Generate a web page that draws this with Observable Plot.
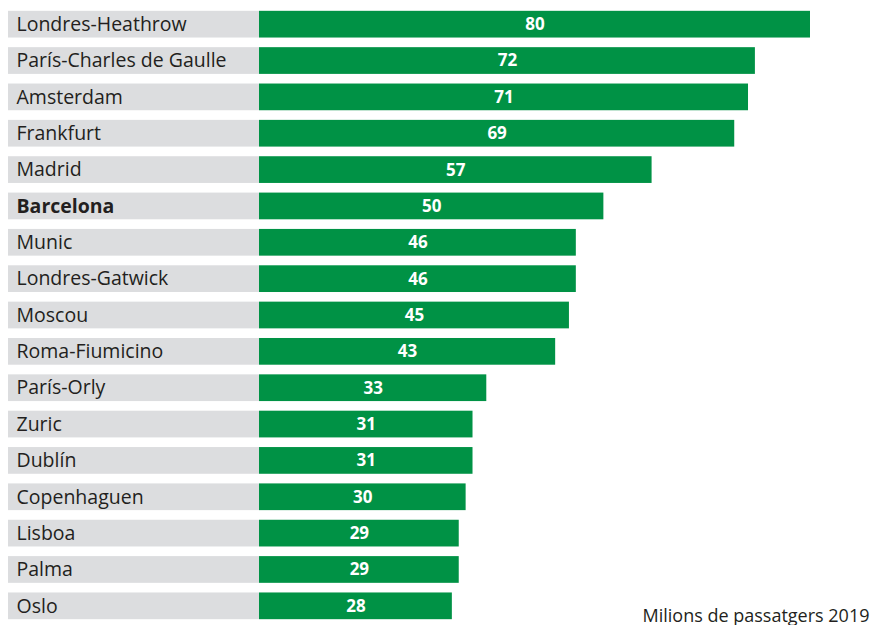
<!DOCTYPE html>
<html><head><meta charset="utf-8">
<script src="https://cdn.jsdelivr.net/npm/d3@7"></script>
<script src="https://cdn.jsdelivr.net/npm/@observablehq/plot@0.6"></script>
<style>body{margin:0;background:#fff}</style>
</head><body><div id="chart"></div>
<script>
const airports = ["Londres-Heathrow","París-Charles de Gaulle","Amsterdam","Frankfurt","Madrid","Barcelona","Munic","Londres-Gatwick","Moscou","Roma-Fiumicino","París-Orly","Zuric","Dublín","Copenhaguen","Lisboa","Palma","Oslo"];
const passengers = [80,72,71,69,57,50,46,46,45,43,33,31,31,30,29,29,28];
const highlight = "Barcelona";
const caption = "Milions de passatgers 2019";

const data = airports.map((name, i) => ({name, value: passengers[i]}));
const font = "'Open Sans', sans-serif";
const green = "#009245", gray = "#dcdddf", ink = "#231f20";

const chart = Plot.plot({
  width: 873, height: 625,
  marginTop: 6, marginBottom: 1, marginLeft: 8, marginRight: 0,
  style: {fontFamily: font, background: "#fff"},
  x: {domain: [0, 80], range: [259, 810], axis: null},
  y: {domain: airports, paddingInner: 0.265, paddingOuter: 0.1325, round: false, axis: null},
  marks: [
    Plot.barX(data, {y: "name", x1: 0, x2: 0, insetLeft: -251, fill: gray}),
    Plot.barX(data, {y: "name", x: "value", fill: green}),
    Plot.text(data.filter(d => d.name !== highlight), {y: "name", x: 0, dx: -243, text: "name", textAnchor: "start", fontSize: 19.5, fill: ink}),
    Plot.text(data.filter(d => d.name === highlight), {y: "name", x: 0, dx: -243, text: "name", textAnchor: "start", fontSize: 19.5, fontWeight: "bold", fill: ink}),
    Plot.text(data, {y: "name", x: d => d.value / 2, text: d => String(d.value), fontSize: 17, fontWeight: "bold", fill: "#fff"}),
    Plot.text([caption], {frameAnchor: "bottom-right", text: d => d, textAnchor: "end", lineAnchor: "bottom", dx: -4, dy: -3, fontSize: 18, fill: ink})
  ]
});
document.getElementById("chart").append(chart);
</script>
</body></html>
